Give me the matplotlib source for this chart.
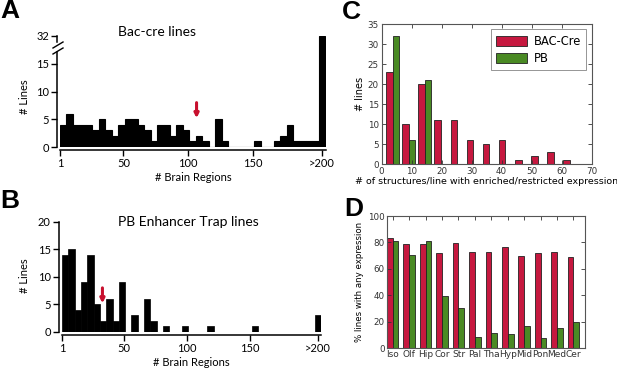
import numpy as np
import matplotlib
matplotlib.use('Agg')
from matplotlib import pyplot as plt
from matplotlib.lines import Line2D

# ---- data -------------------------------------------------------------
# A / B: number of lines per 5-region bin (1-5, 6-10, ... 196-200, >200)
bac_counts = [4, 6, 4, 4, 4, 3, 5, 3, 2, 4,
              5, 5, 4, 3, 1, 4, 4, 2, 4, 3,
              1, 2, 1, 0, 5, 1, 0, 0, 0, 0,
              1, 0, 0, 1, 2, 4, 1, 1, 1, 1,
              32]
pb_counts = [14, 15, 4, 9, 14, 5, 2, 6, 2, 9,
             0, 3, 0, 6, 2, 0, 1, 0, 0, 1,
             0, 0, 0, 1, 0, 0, 0, 0, 0, 0,
             1, 0, 0, 0, 0, 0, 0, 0, 0, 0,
             3]
region_ticks = [1, 50, 100, 150, 203.5]
region_ticklabels = ['1', '50', '100', '150', '>200']
bac_arrow = (106.5, 5.2)   # median marker
pb_arrow = (33, 5.2)

# C: structures with enriched/restricted expression per line
struct_edges = [1, 6.375, 11.75, 17.125, 22.5, 27.875, 33.25, 38.625,
                44, 49.375, 54.75, 60.125, 65.5]
bac_struct = [23, 10, 20, 11, 11, 6, 5, 6, 1, 2, 3, 1]
pb_struct = [32, 6, 21, 0, 0, 0, 0, 0, 0, 0, 0, 0]

# D: % lines with any expression per major brain region
regions = ['Iso', 'Olf', 'Hip', 'Cor', 'Str', 'Pal', 'Tha', 'Hyp', 'Mid', 'Pon', 'Med', 'Cer']
bac_any = [83.1, 78.6, 78.6, 71.8, 79.4, 73.0, 72.5, 76.8, 70.0, 71.8, 72.5, 69.3]
pb_any = [81.3, 70.5, 81.3, 39.5, 30.7, 8.5, 11.8, 11.0, 17.1, 7.5, 15.6, 19.9]

RED = '#c6183f'
GREEN = '#4a8a24'
ARROW = '#c8102e'

W, H = 617.0, 376.0


def box(left, top, right, bottom):
    # pixel box -> figure fraction rect
    return [left / W, 1 - bottom / H, (right - left) / W, (bottom - top) / H]


fig = plt.figure(figsize=(6.17, 3.76), dpi=100)
igor = dict(family='Lato')


def igor_axes(ax, show_bottom=True):
    ax.spines['top'].set_visible(False)
    ax.spines['right'].set_visible(False)
    ax.spines['left'].set_position(('outward', 2))
    ax.spines['left'].set_linewidth(1.1)
    if show_bottom:
        ax.spines['bottom'].set_position(('outward', 2))
        ax.spines['bottom'].set_linewidth(1.1)
    else:
        ax.spines['bottom'].set_visible(False)
        ax.tick_params(axis='x', bottom=False, labelbottom=False)
    ax.tick_params(direction='out', length=4, width=1.0, labelsize=8, pad=2)
    for lab in ax.get_xticklabels() + ax.get_yticklabels():
        lab.set_family('Lato')


# ---- A: Bac-cre lines (broken y axis) ----------------------------------
starts = np.arange(1, 206, 5)
axA = fig.add_axes(box(60, 45, 326, 147))
axA_top = fig.add_axes(box(60, 36, 326, 45))
for ax in (axA, axA_top):
    ax.bar(starts, bac_counts, width=5, align='edge', color='black',
           edgecolor='black', linewidth=0.8)
    ax.set_xlim(1, 206.5)
axA.set_ylim(0, 18.4)
axA_top.set_ylim(30.4, 32)
axA.set_yticks([0, 5, 10, 15])
axA_top.set_yticks([32])
axA.set_xticks(region_ticks)
axA.set_xticklabels(region_ticklabels)
axA_top.set_xticks([])
igor_axes(axA)
igor_axes(axA_top, show_bottom=False)
axA.spines['left'].set_bounds(0, 17.1)
axA_top.spines['left'].set_bounds(31.0, 32)
axA.set_xlabel('# Brain Regions', fontsize=8, labelpad=2, **igor)
axA.annotate('', xy=bac_arrow, xytext=(bac_arrow[0], bac_arrow[1] + 2.8),
             arrowprops=dict(arrowstyle='-|>', color=ARROW, lw=2.2,
                             mutation_scale=6, shrinkA=0, shrinkB=0))
# break marks on the y axis
for yb in (48, 54):
    fig.add_artist(Line2D([53 / W, 63 / W], [1 - yb / H, 1 - (yb - 6) / H],
                          color='black', lw=1.0))
fig.text(157 / W, 1 - 32 / H, 'Bac-cre lines', ha='center', va='center',
         fontsize=10, **igor)
fig.text(25 / W, 1 - 97 / H, '# Lines', rotation=90, ha='center', va='center',
         fontsize=8, **igor)

# ---- B: PB enhancer trap lines -----------------------------------------
axB = fig.add_axes(box(62, 221.7, 321, 332))
axB.bar(starts, pb_counts, width=5, align='edge', color='black',
        edgecolor='black', linewidth=0.5)
axB.set_xlim(1, 206)
axB.set_ylim(0, 20)
axB.set_yticks([0, 5, 10, 15, 20])
axB.set_xticks(region_ticks)
axB.set_xticklabels(region_ticklabels)
igor_axes(axB)
axB.set_xlabel('# Brain Regions', fontsize=8, labelpad=2, **igor)
axB.annotate('', xy=pb_arrow, xytext=(pb_arrow[0], pb_arrow[1] + 2.8),
             arrowprops=dict(arrowstyle='-|>', color=ARROW, lw=2.2,
                             mutation_scale=6, shrinkA=0, shrinkB=0))
fig.text(188 / W, 1 - 222 / H, 'PB Enhancer Trap lines', ha='center',
         va='center', fontsize=10, **igor)
fig.text(25 / W, 1 - 276 / H, '# Lines', rotation=90, ha='center', va='center',
         fontsize=8, **igor)


def classic_axes(ax):
    for sp in ax.spines.values():
        sp.set_color('#555555')
        sp.set_linewidth(0.8)
    ax.tick_params(direction='in', top=True, right=True, length=3, width=0.6,
                   labelsize=6.3, pad=2, colors='#333333')


# ---- C: structures per line --------------------------------------------
axC = fig.add_axes(box(381.5, 24.3, 591.5, 164.3))
edges = np.array(struct_edges)
bw = np.diff(edges)
axC.bar(edges[:-1] + 0.1 * bw, bac_struct, width=0.4 * bw, align='edge',
        color=RED, edgecolor='#222222', linewidth=0.6, label='BAC-Cre')
axC.bar(edges[:-1] + 0.5 * bw, pb_struct, width=0.4 * bw, align='edge',
        color=GREEN, edgecolor='#222222', linewidth=0.6, label='PB')
axC.set_xlim(0, 70)
axC.set_ylim(0, 35)
axC.set_xticks(range(0, 71, 10))
axC.set_yticks(range(0, 36, 5))
classic_axes(axC)
axC.set_ylabel('# lines', fontsize=7, labelpad=2)
axC.set_xlabel('# of structures/line with enriched/restricted expression',
               fontsize=6.8, labelpad=1)
leg = axC.legend(loc='upper right', fontsize=8.3, handlelength=2.7,
                 handleheight=1.0, borderaxespad=0.45, fancybox=False,
                 borderpad=0.45, labelspacing=0.35, handletextpad=0.6)
leg.get_frame().set_edgecolor('#666666')
leg.get_frame().set_linewidth(0.6)

# ---- D: % lines with any expression ------------------------------------
axD = fig.add_axes(box(387.3, 216, 585, 348.3))
x = np.arange(len(regions))
axD.bar(x - 0.35, bac_any, width=0.35, align='edge', color=RED,
        edgecolor='#222222', linewidth=0.6)
axD.bar(x, pb_any, width=0.35, align='edge', color=GREEN,
        edgecolor='#222222', linewidth=0.6)
axD.set_xlim(-0.33, 11.7)
axD.set_ylim(0, 100)
axD.set_xticks(x)
axD.set_xticklabels(regions)
axD.set_yticks(range(0, 101, 20))
classic_axes(axD)
axD.tick_params(axis='x', labelsize=6.5, pad=1.5)
axD.set_ylabel('% lines with any expression', fontsize=6.2, labelpad=3)

# ---- panel letters ------------------------------------------------------
for lx, ly, letter in [(0, 11, 'A'), (0, 201, 'B'), (342, 12, 'C'), (344, 209, 'D')]:
    fig.text(lx / W, 1 - ly / H, letter, ha='left', va='center', fontsize=19,
             fontweight='bold', family='Liberation Sans')

fig.savefig('out.png', dpi=100)
